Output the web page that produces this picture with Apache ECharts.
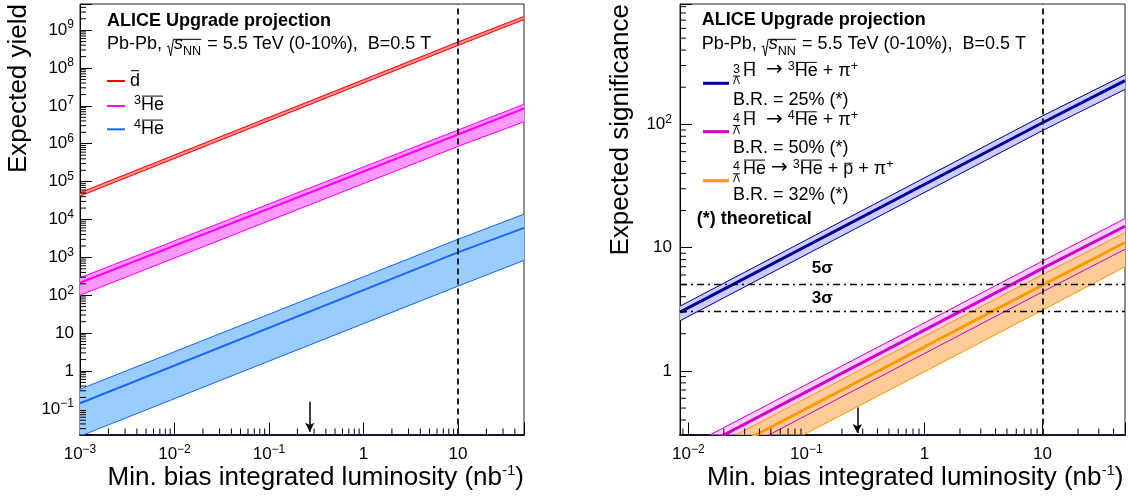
<!DOCTYPE html>
<html><head><meta charset="utf-8">
<script src="https://cdn.jsdelivr.net/npm/echarts@6/dist/echarts.min.js"></script>
<style>html,body{margin:0;padding:0;background:#fff}#c{width:1128px;height:500px}</style>
</head><body><div id="c"></div>
<script>
// ---------------- data ----------------
// Left panel: expected yield vs luminosity (nb^-1)
const lumiLeft   = [0.001, 10, 50];
const dbarUpper  = [5.1e4, 4.85e8, 2.3e9];
const dbarLower  = [4.15e4, 3.95e8, 1.9e9];
const he3Upper   = [288, 2.3e6, 1.1e7];
const he3Central = [214, 1.75e6, 8.5e6];
const he3Lower   = [100, 8.5e5, 3.8e6];
const he4Upper   = [0.33, 3.0e3, 1.38e4];
const he4Central = [0.14, 1.35e3, 6.0e3];
const he4Lower   = [0.019, 174, 830];
// Right panel: expected significance vs luminosity
const lumiRight   = [0.0085, 10, 50];
const h3lUpper    = [3.35, 117, 252];
const h3lCentral  = [3.0, 103, 226];
const h3lLower    = [2.55, 89, 192];
const h4lUpper    = [0.226, 7.77, 17.2];
const h4lCentral  = [0.197, 6.78, 14.9];
const h4lLower    = [0.127, 4.38, 9.7];
const he4lUpper   = [0.175, 6.06, 13.2];
const he4lCentral = [0.144, 4.96, 11.0];
const he4lLower   = [0.091, 3.11, 7.0];
// axes
const xRangeLeft  = [0.001, 50];
const yRangeLeft  = [0.021, 4.9e9];
const xRangeRight = [0.0085, 50];
const yRangeRight = [0.305, 946];
const xTickExpLeft  = [-3, -2, -1, 0, 1];
const yTickExpLeft  = [-1, 0, 1, 2, 3, 4, 5, 6, 7, 8, 9];
const xTickExpRight = [-2, -1, 0, 1];
const yTickExpRight = [0, 1, 2];
// annotations
const refLumi = 10;
const arrowLumi = 0.27;
const arrowLeftY = [0.155, 0.025];
const arrowRightY = [0.505, 0.314];
const sigmaLevels = [5, 3];
const sigmaLabels = ['5σ', '3σ'];

// ---------------- helpers ----------------
const FONT = '"Liberation Sans", Arial, Helvetica, sans-serif';
const T = v => Math.log10(v);
const pts = (xs, ys) => xs.map((x, i) => [T(x), T(ys[i])]);
function fontStr(size, bold, it, fam) { return (it ? 'italic ' : '') + (bold ? 'bold ' : '') + size + 'px ' + (fam || FONT); }
const cvs = document.createElement('canvas').getContext('2d');
function tw(t, f) { cvs.font = f; return cvs.measureText(t).width; }

function expLabel(allowed) {
  return v => {
    const r = Math.round(v);
    if (Math.abs(v - r) > 1e-6 || allowed.indexOf(r) < 0) return '';
    if (r === 0) return '{b|1}';
    if (r === 1) return '{b|10}';
    return '{b|10}{s|' + (r < 0 ? '\u2212' + (-r) : r) + '}';
  };
}
const richLab = {
  b: { fontSize: 17, lineHeight: 22, fontFamily: FONT, color: '#000' },
  s: { fontSize: 12, lineHeight: 12, verticalAlign: 'top', fontFamily: FONT, color: '#000' }
};

function xAxisCfg(g, range, exps) {
  return { type: 'value', gridIndex: g, min: T(range[0]), max: T(range[1]), minInterval: 1, maxInterval: 1,
    splitLine: { show: false },
    axisLine: { onZero: false, lineStyle: { color: '#15153a', width: 2 } },
    axisTick: { inside: true, length: 12, lineStyle: { color: '#000', width: 1 } },
    axisLabel: { margin: 9, color: '#000', formatter: expLabel(exps), rich: richLab } };
}
function yAxisCfg(g, range, exps, margin) {
  return { type: 'value', gridIndex: g, min: T(range[0]), max: T(range[1]), minInterval: 1, maxInterval: 1,
    splitLine: { show: false },
    axisLine: { onZero: false, lineStyle: { color: '#000', width: 1 } },
    axisTick: { inside: true, length: 12, lineStyle: { color: '#000', width: 1 } },
    axisLabel: { margin: margin, color: '#000', formatter: expLabel(exps), rich: richLab } };
}

// filled uncertainty band: one quad per segment, positioned through the axes
function bandSeries(g, xs, lo, up, fill) {
  return { type: 'custom', xAxisIndex: g, yAxisIndex: g, silent: true, z: 1,
    data: xs.map((x, i) => [T(x), T(lo[i]), T(up[i])]),
    encode: { x: 0, y: [1, 2] },
    renderItem: (params, api) => {
      const i = params.dataIndex;
      if (i >= xs.length - 1) return null;
      const a = api.coord([T(xs[i]), T(up[i])]), b = api.coord([T(xs[i + 1]), T(up[i + 1])]);
      const c = api.coord([T(xs[i + 1]), T(lo[i + 1])]), d = api.coord([T(xs[i]), T(lo[i])]);
      const cs = params.coordSys;
      return { type: 'polygon', shape: { points: [a, b, c, d] }, style: { fill: fill, stroke: fill, lineWidth: 0.6 },
        clipPath: { type: 'rect', shape: { x: cs.x, y: cs.y, width: cs.width, height: cs.height } } };
    } };
}
function lineSeries(g, xs, ys, color, width) {
  return { type: 'line', xAxisIndex: g, yAxisIndex: g, symbol: 'none', silent: true, clip: true,
    lineStyle: { color: color, width: width }, data: pts(xs, ys), z: 3 };
}
function minorVals(lo, hi) {
  const out = [];
  for (let e = Math.floor(lo) - 1; e <= Math.ceil(hi); e++)
    for (let k = 2; k <= 9; k++) { const v = e + Math.log10(k); if (v > lo + 1e-9 && v < hi - 1e-9) out.push(v); }
  return out;
}
function minorX(g, xr, yr) {
  const y0 = T(yr[0]);
  return { type: 'custom', xAxisIndex: g, yAxisIndex: g, silent: true, z: 6,
    data: minorVals(T(xr[0]), T(xr[1])).map(v => [v, y0]),
    renderItem: (p, api) => { const c = api.coord([api.value(0), api.value(1)]);
      return { type: 'line', shape: { x1: c[0], y1: c[1], x2: c[0], y2: c[1] - 6 }, style: { stroke: '#000', lineWidth: 1 } }; } };
}
function minorY(g, xr, yr) {
  const x0 = T(xr[0]);
  return { type: 'custom', xAxisIndex: g, yAxisIndex: g, silent: true, z: 6,
    data: minorVals(T(yr[0]), T(yr[1])).map(v => [x0, v]),
    renderItem: (p, api) => { const c = api.coord([api.value(0), api.value(1)]);
      return { type: 'line', shape: { x1: c[0], y1: c[1], x2: c[0] + 6, y2: c[1] }, style: { stroke: '#000', lineWidth: 1 } }; } };
}

// text composer (sub/superscripts, bars, radicals)
function txt(x, y, t, f) {
  return { type: 'text', x: x, y: y, silent: true, z: 100, style: { text: t, font: f, fill: '#000', align: 'left', verticalAlign: 'middle' } };
}
function hline(x1, x2, y, w) {
  return { type: 'line', silent: true, z: 100, shape: { x1: x1, y1: y, x2: x2, y2: y }, style: { stroke: '#000', lineWidth: w || 1 } };
}
function compose(x0, yc, pieces, base, anchorRight) {
  base = base || 18;
  const items = pieces.map(p => {
    if (typeof p === 'string') p = { t: p };
    if (p.gap !== undefined) return { w: p.gap, p: p };
    if (p.sqrt) return { w: 7, p: p };
    if (p.pre) {
      const f1 = fontStr(12.5), f2 = fontStr(10.5);
      return { w: Math.max(tw(p.pre[0], f1), tw(p.pre[1], f2)) + 3, p: p, f1: f1, f2: f2 };
    }
    const size = p.size || (p.sup || p.sub ? base * 0.7 : base);
    const f = fontStr(size, p.bold, p.it, p.fam);
    return { w: tw(p.t, f), p: p, f: f };
  });
  const total = items.reduce((a, b) => a + b.w, 0);
  let cx = anchorRight ? x0 - total : x0;
  items.forEach(it => { it.x = cx; cx += it.w; });
  const els = [];
  const b = yc + 0.3465 * base; // baseline
  items.forEach((it, i) => {
    const p = it.p;
    if (p.sqrt) {
      const end = items[i + p.sqrt].x + items[i + p.sqrt].w;
      els.push({ type: 'polyline', silent: true, z: 100,
        shape: { points: [[it.x, b - 3], [it.x + 1.6, b - 4.2], [it.x + 3.6, b + 6], [it.x + 6.5, b - 10.7], [end, b - 10.7]] },
        style: { stroke: '#000', lineWidth: 1, fill: null } });
    } else if (p.pre) {
      const w1 = tw(p.pre[0], it.f1), w2 = tw(p.pre[1], it.f2), wm = it.w - 3;
      els.push(txt(it.x + (wm - w1) / 2, yc - 2, p.pre[0], it.f1));
      els.push(hline(it.x + (wm - w2) / 2, it.x + (wm + w2) / 2, yc + 5));
      els.push(txt(it.x + (wm - w2) / 2, yc + 10.5, p.pre[1], it.f2));
    } else if (p.t !== undefined) {
      const dy = p.dy !== undefined ? p.dy : (p.sup ? -0.25 * base : p.sub ? 0.42 * base : 0);
      els.push(txt(it.x, yc + dy, p.t, it.f));
      if (p.bar !== undefined) els.push(hline(it.x + 1, it.x + it.w - 1, yc + dy + p.bar));
    }
  });
  return els;
}
function vtitle(x, yTop, t, size) {
  return { type: 'text', x: x, y: yTop, rotation: Math.PI / 2, silent: true, z: 100,
    style: { text: t, font: fontStr(size), fill: '#000', align: 'right', verticalAlign: 'middle' } };
}

// ---------------- graphics (legends, titles) ----------------
const pbLine = ['Pb-Pb, ', { sqrt: 2 }, { t: 's', it: true }, { t: 'NN', sub: true }, { gap: 1 }, ' = 5.5 TeV (0-10%),  B=0.5 T'];
const BAR = -8.7;
const ARROW = { t: '\u2192', fam: '"DejaVu Sans", sans-serif', size: 20, dy: -1 };
let G = [];
// left panel
G = G.concat(compose(107, 21.1, [{ t: 'ALICE Upgrade projection', bold: true }]));
G = G.concat(compose(107, 43.8, pbLine));
G.push({ type: 'line', silent: true, z: 100, shape: { x1: 107, y1: 81, x2: 125, y2: 81 }, style: { stroke: '#ff0000', lineWidth: 2 } });
G.push({ type: 'line', silent: true, z: 100, shape: { x1: 107, y1: 106, x2: 125, y2: 106 }, style: { stroke: '#ff00ff', lineWidth: 2 } });
G.push({ type: 'line', silent: true, z: 100, shape: { x1: 107, y1: 129.3, x2: 125, y2: 129.3 }, style: { stroke: '#1a66ff', lineWidth: 2 } });
G = G.concat(compose(130, 81, [{ t: 'd', bar: -10.3 }]));
G = G.concat(compose(134, 104.8, [{ t: '3', sup: true }, { t: 'He', bar: BAR }]));
G = G.concat(compose(134, 128.8, [{ t: '4', sup: true }, { t: 'He', bar: BAR }]));
G.push(vtitle(19, 4, 'Expected yield', 26));
G = G.concat(compose(524, 478, [{ t: 'Min. bias integrated luminosity (nb', size: 26 }, { t: '-1', size: 15, dy: -7 }, { t: ')', size: 26 }], 26, true));
// right panel
G = G.concat(compose(701.7, 20.5, [{ t: 'ALICE Upgrade projection', bold: true }]));
G = G.concat(compose(701.7, 43.8, pbLine));
const legR = [
  { col: '#000099', y: 83.3, y1: 71.1, y2: 99.8,
    l1: [{ pre: ['3', 'Λ'] }, { t: 'H', bar: BAR }, '  ', ARROW, ' ', { t: '3', sup: true }, { t: 'He', bar: BAR }, ' + π', { t: '+', sup: true }],
    l2: 'B.R. = 25% (*)' },
  { col: '#cc00cc', y: 131.7, y1: 120.5, y2: 147.8,
    l1: [{ pre: ['4', 'Λ'] }, { t: 'H', bar: BAR }, '  ', ARROW, ' ', { t: '4', sup: true }, { t: 'He', bar: BAR }, ' + π', { t: '+', sup: true }],
    l2: 'B.R. = 50% (*)' },
  { col: '#ff9900', y: 180.7, y1: 168.8, y2: 195.5,
    l1: [{ pre: ['4', 'Λ'] }, { t: 'He', bar: BAR }, ' ', ARROW, ' ', { t: '3', sup: true }, { t: 'He', bar: BAR }, ' + ', { t: 'p', bar: -5.6 }, ' + π', { t: '+', sup: true }],
    l2: 'B.R. = 32% (*)' }
];
legR.forEach(e => {
  G.push({ type: 'line', silent: true, z: 100, shape: { x1: 703, y1: e.y, x2: 729, y2: e.y }, style: { stroke: e.col, lineWidth: 3 } });
  G = G.concat(compose(733, e.y1, e.l1));
  G = G.concat(compose(733, e.y2, [e.l2]));
});
G = G.concat(compose(696.7, 218.8, [{ t: '(*) theoretical', bold: true }]));
G = G.concat(compose(811.7, 268.8, [{ t: sigmaLabels[0], bold: true, size: 17 }]));
G = G.concat(compose(811.7, 298.8, [{ t: sigmaLabels[1], bold: true, size: 17 }]));
G.push(vtitle(621, 4, 'Expected significance', 26));
G = G.concat(compose(1123.5, 478, [{ t: 'Min. bias integrated luminosity (nb', size: 26 }, { t: '-1', size: 15, dy: -7 }, { t: ')', size: 26 }], 26, true));

// ---------------- series ----------------
function refMarks(arrowY, sigma) {
  const data = [
    { xAxis: T(refLumi), lineStyle: { type: [6, 4], color: '#222', width: 2 } },
    [{ coord: [T(arrowLumi), T(arrowY[0])], symbol: 'none', lineStyle: { type: 'solid', color: '#000', width: 1.5 } },
     { coord: [T(arrowLumi), T(arrowY[1])], symbol: 'arrow', symbolSize: [7, 9] }]
  ];
  if (sigma) sigmaLevels.forEach(s => data.push({ yAxis: T(s), lineStyle: { type: [7, 4, 2, 4], color: '#000', width: 1.3 } }));
  return { silent: true, symbol: ['none', 'none'], label: { show: false }, animation: false, data: data };
}

const series = [].concat(
  [bandSeries(0, lumiLeft, dbarLower, dbarUpper, '#ff8c8c'),
   bandSeries(0, lumiLeft, he3Lower, he3Upper, '#ff99ff'),
   bandSeries(0, lumiLeft, he4Lower, he4Upper, '#99ccff'),
   lineSeries(0, lumiLeft, dbarUpper, '#ff0000', 1),
   lineSeries(0, lumiLeft, dbarLower, '#ff0000', 1),
   lineSeries(0, lumiLeft, he3Upper, '#ff00ff', 1),
   lineSeries(0, lumiLeft, he3Lower, '#ff00ff', 1),
   lineSeries(0, lumiLeft, he3Central, '#ff00ff', 2),
   lineSeries(0, lumiLeft, he4Upper, '#1a66ff', 1),
   lineSeries(0, lumiLeft, he4Lower, '#1a66ff', 1),
   Object.assign(lineSeries(0, lumiLeft, he4Central, '#1a66ff', 2), { markLine: refMarks(arrowLeftY, false), z: 4 })],
  [bandSeries(1, lumiRight, h3lLower, h3lUpper, '#ccccff'),
   bandSeries(1, lumiRight, h4lLower, h4lUpper, '#ffccff'),
   bandSeries(1, lumiRight, he4lLower, he4lUpper, '#ffcc99'),
   lineSeries(1, lumiRight, h3lUpper, '#000099', 1),
   lineSeries(1, lumiRight, h3lLower, '#000099', 1),
   lineSeries(1, lumiRight, h3lCentral, '#000099', 3),
   lineSeries(1, lumiRight, he4lUpper, '#ff9900', 1),
   lineSeries(1, lumiRight, he4lLower, '#ff9900', 1),
   lineSeries(1, lumiRight, he4lCentral, '#ff9900', 3),
   lineSeries(1, lumiRight, h4lUpper, '#cc00cc', 1),
   lineSeries(1, lumiRight, h4lLower, '#cc00cc', 1),
   Object.assign(lineSeries(1, lumiRight, h4lCentral, '#cc00cc', 3), { markLine: refMarks(arrowRightY, true), z: 4 })],
  [minorX(0, xRangeLeft, yRangeLeft), minorY(0, xRangeLeft, yRangeLeft),
   minorX(1, xRangeRight, yRangeRight), minorY(1, xRangeRight, yRangeRight)]
);

const chart = echarts.init(document.getElementById('c'), null, { renderer: 'canvas' });
chart.setOption({
  animation: false,
  backgroundColor: '#fff',
  textStyle: { fontFamily: FONT },
  grid: [
    { left: 80, top: 4, width: 444, height: 430.5, show: true, borderColor: '#222', borderWidth: 1, backgroundColor: 'transparent' },
    { left: 680, top: 4, width: 445, height: 430.5, show: true, borderColor: '#222', borderWidth: 1, backgroundColor: 'transparent' }
  ],
  xAxis: [xAxisCfg(0, xRangeLeft, xTickExpLeft), xAxisCfg(1, xRangeRight, xTickExpRight)],
  yAxis: [yAxisCfg(0, yRangeLeft, yTickExpLeft, 6), yAxisCfg(1, yRangeRight, yTickExpRight, 8)],
  series: series,
  graphic: { elements: G }
});
</script></body></html>
